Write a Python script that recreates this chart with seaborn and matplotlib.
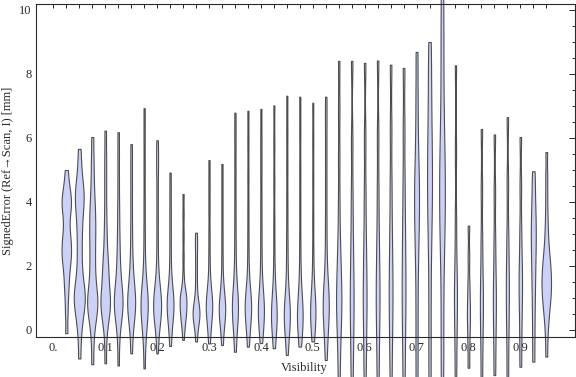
import matplotlib
matplotlib.use('Agg')
import matplotlib.pyplot as plt
from matplotlib.ticker import MultipleLocator, FixedLocator
import pandas as pd
import seaborn as sns

# ── DATA ──────────────────────────────────────────────────
visibility = [0.025, 0.05, 0.075, 0.1, 0.125, 0.15, 0.175, 0.2, 0.225, 0.25,
              0.275, 0.3, 0.325, 0.35, 0.375, 0.4, 0.425, 0.45, 0.475, 0.5,
              0.525, 0.55, 0.575, 0.6, 0.625, 0.65, 0.675, 0.7, 0.725, 0.75,
              0.775, 0.8, 0.825, 0.85, 0.875, 0.9, 0.925, 0.95]

# signed error samples [mm], one list per visibility bin
err_low = [
    [-0.1, 0.5, 0.95, 1.3, 1.55, 1.8, 2.0, 2.15, 2.3, 2.42, 2.55, 2.68, 2.82, 2.98,
     3.15, 3.38, 3.58, 3.74, 3.88, 4.0, 4.12, 4.26, 4.42, 4.65, 5.0],
    [-0.89, -0.3, 0.1, 0.35, 0.55, 0.7, 0.82, 0.94, 1.06, 1.18, 1.3, 1.45, 1.65, 1.9,
     2.2, 2.5, 2.8, 3.1, 3.35, 3.6, 3.8, 3.97, 4.12, 4.27, 4.42, 4.6, 4.85, 5.2, 5.66],
    [-1.07, -0.4, 0.05, 0.3, 0.48, 0.62, 0.74, 0.86, 0.98, 1.1, 1.25, 1.42, 1.65, 1.9,
     2.15, 2.4, 2.65, 2.9, 3.12, 3.35, 3.58, 3.82, 4.1, 4.45, 4.9, 5.4, 6.03],
    [-1.04, -0.35, 0.1, 0.32, 0.48, 0.6, 0.71, 0.82, 0.93, 1.04, 1.16, 1.3, 1.46, 1.64,
     1.82, 2.0, 2.2, 2.45, 2.8, 3.2, 3.7, 4.3, 4.9, 5.5, 6.23],
    [-1.11, -0.4, 0.05, 0.28, 0.45, 0.58, 0.7, 0.81, 0.92, 1.03, 1.15, 1.28, 1.45, 1.65,
     1.9, 2.2, 2.55, 2.95, 3.45, 4.0, 4.7, 5.45, 6.18],
    [-0.73, -0.2, 0.12, 0.33, 0.49, 0.62, 0.74, 0.86, 0.98, 1.1, 1.24, 1.4, 1.6, 1.85,
     2.2, 2.65, 3.2, 3.85, 4.5, 5.15, 5.81],
    [-1.2, -0.45, -0.05, 0.2, 0.38, 0.53, 0.67, 0.8, 0.93, 1.07, 1.22, 1.42, 1.75, 2.3,
     3.1, 4.0, 5.0, 6.0, 6.93],
    [-0.73, -0.2, 0.1, 0.28, 0.42, 0.54, 0.65, 0.76, 0.87, 0.98, 1.1, 1.24, 1.42, 1.7,
     2.15, 2.8, 3.5, 4.2, 4.9, 5.4, 5.93],
    [-0.5, -0.1, 0.18, 0.36, 0.5, 0.63, 0.75, 0.87, 0.99, 1.12, 1.28, 1.5, 1.85, 2.4,
     3.0, 3.6, 4.25, 4.92],
    [-0.31, 0.05, 0.25, 0.38, 0.49, 0.6, 0.7, 0.8, 0.9, 0.99, 1.07, 1.15, 1.3, 1.7,
     2.3, 2.95, 3.6, 4.25],
    [-0.36, -0.05, 0.13, 0.25, 0.35, 0.44, 0.52, 0.6, 0.69, 0.79, 0.92, 1.1, 1.4, 1.75,
     2.1, 2.45, 2.75, 3.04],
]
err_mid = [
    [-0.42, -0.05, 0.22, 0.4, 0.53, 0.65, 0.76, 0.88, 1.0, 1.15, 1.35, 1.7, 2.3, 3.0,
     3.8, 4.55, 5.31],
    [-0.47, -0.08, 0.18, 0.34, 0.47, 0.58, 0.69, 0.8, 0.93, 1.08, 1.3, 1.65, 2.25, 2.95,
     3.7, 4.45, 5.19],
    [-0.68, -0.15, 0.2, 0.4, 0.56, 0.71, 0.86, 1.03, 1.25, 1.6, 2.2, 3.0, 3.9, 4.9, 5.9, 6.79],
    [-0.52, -0.1, 0.2, 0.38, 0.52, 0.64, 0.76, 0.88, 1.02, 1.2, 1.5, 2.1, 2.9, 3.8, 4.8,
     5.85, 6.85],
    [-0.41, -0.05, 0.2, 0.38, 0.52, 0.66, 0.8, 0.97, 1.2, 1.6, 2.3, 3.1, 4.0, 5.0, 5.9, 6.91],
    [-0.57, -0.15, 0.1, 0.27, 0.41, 0.55, 0.7, 0.88, 1.15, 1.6, 2.4, 3.4, 4.6, 5.8, 7.02],
    [-0.78, -0.25, 0.05, 0.23, 0.37, 0.5, 0.64, 0.8, 1.05, 1.5, 2.2, 3.0, 4.0, 5.1, 6.2, 7.32],
    [-0.52, -0.1, 0.12, 0.28, 0.42, 0.56, 0.72, 0.95, 1.3, 1.9, 2.8, 3.9, 5.0, 6.2, 7.29],
    [-0.36, 0.0, 0.25, 0.42, 0.57, 0.72, 0.9, 1.15, 1.6, 2.4, 3.5, 4.7, 5.9, 7.1],
    [-0.94, -0.35, 0.05, 0.32, 0.54, 0.74, 0.94, 1.15, 1.4, 1.8, 2.5, 3.4, 4.4, 5.4, 6.4, 7.29],
]
err_high = [
    [-1.6, -0.75, -0.1, 0.35, 0.7, 1.0, 1.35, 1.75, 2.25, 2.9, 4.0, 5.4, 6.9, 8.41],
    [-1.6, -0.6, 0.2, 0.8, 1.4, 2.1, 3.0, 4.2, 5.9, 8.41],
    [-1.6, -0.6, 0.25, 0.85, 1.45, 2.15, 3.05, 4.3, 6.0, 8.35],
    [-1.6, -0.55, 0.3, 0.9, 1.5, 2.2, 3.1, 4.4, 6.1, 8.42],
    [-1.6, -0.5, 0.35, 1.0, 1.65, 2.4, 3.35, 4.6, 6.3, 8.29],
    [-1.6, -0.5, 0.4, 1.1, 1.8, 2.6, 3.5, 4.7, 6.3, 8.19],
    [-1.6, -0.4, 0.8, 1.9, 2.7, 3.3, 3.8, 4.3, 4.8, 5.4, 6.3, 7.4, 8.69],
    [-1.6, -0.3, 1.0, 2.2, 3.1, 3.8, 4.4, 5.0, 5.6, 6.3, 7.1, 8.0, 9.0],
    [-1.6, -0.4, 0.8, 1.9, 2.7, 3.35, 3.9, 4.45, 5.0, 5.6, 6.3, 7.2, 8.3, 9.4, 10.6],
]
err_tail = [
    [-1.6, -0.3, 0.6, 1.2, 1.9, 3.4, 5.6, 8.27],
    [-1.18, -0.45, 0.1, 0.5, 0.9, 1.45, 2.3, 3.26],
    [-1.55, -0.4, 0.4, 1.0, 1.7, 2.8, 4.4, 6.28],
    [-1.41, -0.35, 0.45, 1.05, 1.75, 2.8, 4.3, 6.11],
    [-1.55, -0.3, 0.6, 1.3, 2.0, 3.0, 4.6, 6.65],
    [-1.15, -0.2, 0.6, 1.2, 1.7, 2.3, 3.2, 4.5, 6.03],
    [-0.99, -0.2, 0.5, 1.1, 1.6, 2.05, 2.45, 2.8, 3.15, 3.5, 3.9, 4.4, 4.96],
    [-0.83, -0.25, 0.15, 0.42, 0.62, 0.8, 0.95, 1.08, 1.2, 1.32, 1.44, 1.56, 1.68, 1.8,
     1.93, 2.07, 2.22, 2.4, 2.62, 2.9, 3.25, 3.7, 4.25, 4.85, 5.56],
]

x_tick_pos = [0.0, 0.1, 0.2, 0.3, 0.4, 0.5, 0.6, 0.7, 0.8, 0.9]
x_tick_labels = ['0.', '0.1', '0.2', '0.3', '0.4', '0.5', '0.6', '0.7', '0.8', '0.9']
y_tick_pos = [0, 2, 4, 6, 8, 10]
y_tick_labels = ['0', '2', '4', '6', '8', '10']

# ── LONG TABLE ────────────────────────────────────────────
rows = []
for v, errs in zip(visibility, err_low + err_mid + err_high + err_tail):
    rows += [(v, e) for e in errs]
df = pd.DataFrame(rows, columns=['Visibility', 'SignedError'])

# ── STYLE ─────────────────────────────────────────────────
sns.set_style('white')
plt.rcParams['font.family'] = ['Liberation Serif', 'DejaVu Serif']
FILL = '#CCD2F7'
EDGE = '#4d4d4d'
INK = '#2a2a2a'

fig, ax = plt.subplots(figsize=(5.76, 3.77), dpi=100)
fig.subplots_adjust(left=0.0625, right=0.9991, bottom=0.107, top=0.9886)

# width of each violin follows its sample count
sns.violinplot(data=df, x='Visibility', y='SignedError', native_scale=True,
               density_norm='count', cut=0, inner=None, bw_adjust=0.35,
               width=0.85, color=FILL, linecolor=EDGE, linewidth=0.8,
               saturation=1, ax=ax)
for c in ax.collections:
    c.set_clip_on(False)

ax.set_xlim(-0.0334, 1.0063)
ax.set_ylim(-0.209, 10.178)

ax.set_xticks(x_tick_pos, x_tick_labels)
ax.xaxis.set_minor_locator(FixedLocator([0.0] + visibility))
ax.set_yticks(y_tick_pos, y_tick_labels)
ax.yaxis.set_minor_locator(MultipleLocator(0.5))

ax.tick_params(axis='both', which='both', direction='in', top=True, right=True,
               color=INK, width=0.7, labelsize=9, labelcolor=INK)
ax.tick_params(axis='x', which='both', length=3, pad=4)
ax.tick_params(axis='y', which='major', length=4, pad=3)
ax.tick_params(axis='y', which='minor', length=2.3)

for s in ax.spines.values():
    s.set_color(INK); s.set_linewidth(0.8)

ax.set_xlabel('Visibility', fontsize=9, color=INK)
ax.set_ylabel('SignedError (Ref\u2192Scan, I) [mm]', fontsize=9, color=INK)
ax.xaxis.set_label_coords(0.497, -0.076)
ax.yaxis.set_label_coords(-0.040, 0.5)

plt.savefig('out.png', dpi=100)
plt.close()
